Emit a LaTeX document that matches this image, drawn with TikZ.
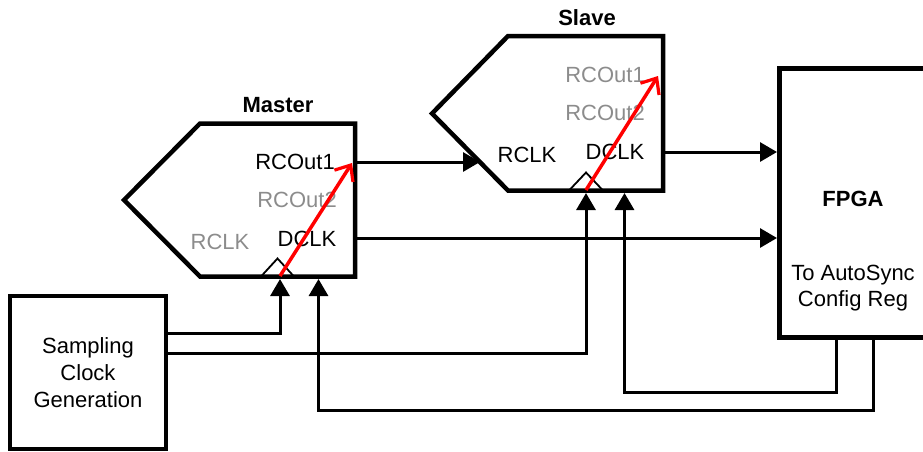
\documentclass[tikz,border=0pt]{standalone}
\usepackage{fontspec}
\setmainfont{Liberation Sans}
\usetikzlibrary{arrows.meta}
\definecolor{lg}{RGB}{140,140,140}
\begin{document}
\begin{tikzpicture}[x=1pt,y=-1pt,
  blk/.style={line width=4.5pt, line join=miter},
  wire/.style={line width=3pt, -{Triangle[length=17pt,width=19pt]}},
  clk/.style={line width=1.8pt},
  redarr/.style={red, line width=3.5pt, -{Straight Barb[length=13pt,width=22pt,line width=3.2pt]}},
  lbl/.style={font=\fontsize{22}{27}\selectfont, inner sep=0pt, anchor=base},
  glbl/.style={lbl, text=lg},
  ttl/.style={lbl, font=\fontsize{22}{27}\selectfont\bfseries}
]
\clip (0,0) rectangle (923,451);
% Master pentagon
\coordinate (m1) at (124,200);
\coordinate (m2) at (200,123.5);
\coordinate (m3) at (355,123.5);
\coordinate (m4) at (355,276.5);
\coordinate (m5) at (200,276.5);
\draw[blk] (m1) -- (m2) -- (m3) -- (m4) -- (m5) -- cycle;
% Slave pentagon
\coordinate (s1) at (432,113.5);
\coordinate (s2) at (508,36);
\coordinate (s3) at (663,36);
\coordinate (s4) at (663,190.5);
\coordinate (s5) at (508,190.5);
\draw[blk] (s1) -- (s2) -- (s3) -- (s4) -- (s5) -- cycle;
% FPGA and sampling clock boxes
\node[draw, blk, minimum width=200pt, minimum height=269pt, anchor=north west, inner sep=0pt] (fpga) at (777,66) {};
\node[draw, blk, minimum width=156pt, minimum height=153pt, inner sep=0pt, align=center,
      font=\fontsize{22}{27}\selectfont] (scg) at (88,372.5) {Sampling\\Clock\\Generation};
% titles and pin labels
\node[ttl] (mt) at (278,112) {Master};
\node[ttl] (st) at (587,25) {Slave};
\node[ttl] (ft) at (853,206.7) {FPGA};
\node[lbl] (ft2) at (853,280) {To AutoSync};
\node[lbl] (ft3) at (853,306.7) {Config Reg};
\node[lbl] (mo1) at (295,169.5) {RCOut1};
\node[glbl] (mo2) at (297,207.5) {RCOut2};
\node[glbl] (mrc) at (220,249.5) {RCLK};
\node[lbl] (mdc) at (307,246) {DCLK};
\node[glbl] (so1) at (605,82.7) {RCOut1};
\node[glbl] (so2) at (605,120.7) {RCOut2};
\node[lbl] (src) at (527,162) {RCLK};
\node[lbl] (sdc) at (615,159) {DCLK};
% clock hats
\draw[clk] (261,276.5) -- (277.5,258.5) -- (294,276.5);
\draw[clk] (569,190.5) -- (586,172.5) -- (603,190.5);
% port coordinates
\coordinate (mro1) at (355,162);
\coordinate (mdclk) at (355,238);
\coordinate (srclk) at (480,162);
\coordinate (sdclk) at (663,152);
\coordinate (fin1) at (777,152);
\coordinate (fin2) at (777,238);
\coordinate (min1) at (280,279);
\coordinate (min2) at (318.5,279);
\coordinate (sin1) at (586,193);
\coordinate (sin2) at (624.5,193);
\coordinate (g1) at (166,333.5);
\coordinate (g2) at (166,353);
\coordinate (fb1) at (836,335);
\coordinate (fb2) at (873,335);
\coordinate (j6) at (624.5,392);
\coordinate (j7) at (318.5,410);
% connectors
\draw[wire] (mro1) -- (srclk);
\draw[wire] (sdclk) -- (fin1);
\draw[wire] (mdclk) -- (fin2);
\draw[wire] (g1) -| (min1);
\draw[wire] (g2) -| (sin1);
\draw[wire] (fb1) |- (j6) -- (sin2);
\draw[wire] (fb2) |- (j7) -- (min2);
% red arrows
\draw[redarr] (280,276) -- (352,163);
\draw[redarr] (586,190) -- (658,76);
\end{tikzpicture}
\end{document}
